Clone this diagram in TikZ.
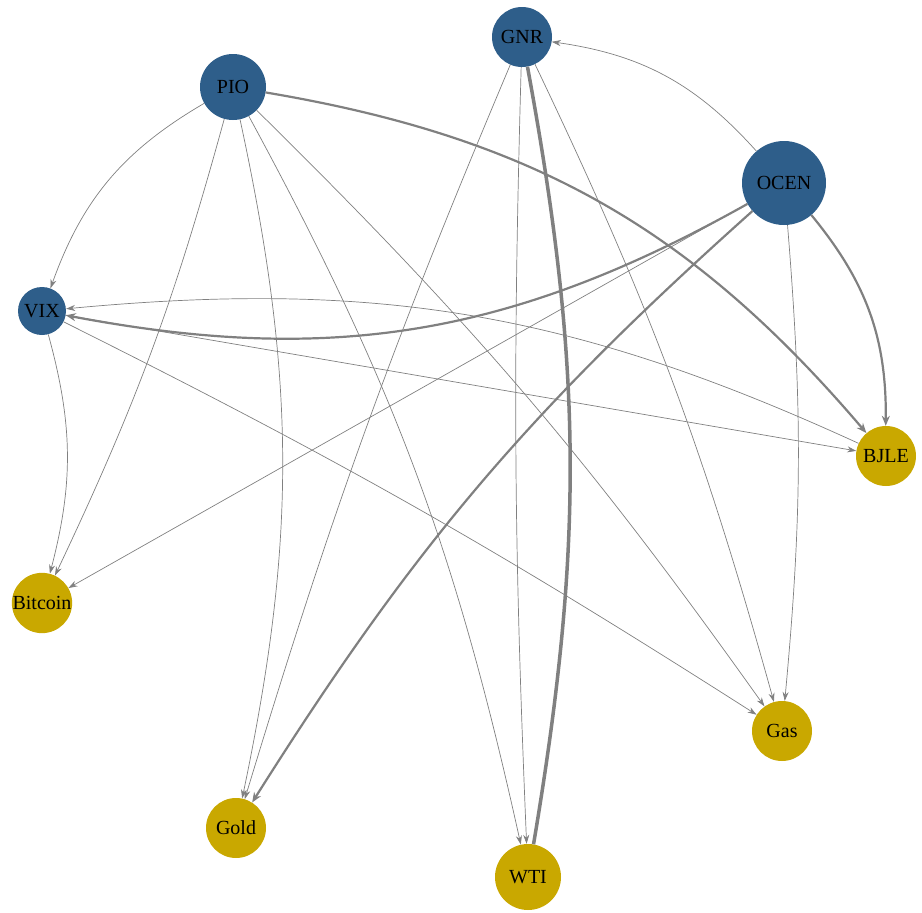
\documentclass[tikz,border=0pt]{standalone}
\usepackage{fontspec}
\setmainfont{Liberation Serif}
\usetikzlibrary{arrows.meta}
\begin{document}
\begin{tikzpicture}[x=1pt,y=-1pt,
 blu/.style={circle,fill={rgb,255:red,46;green,94;blue,138},inner sep=0pt,font=\fontsize{20}{22}\selectfont},
 yel/.style={circle,fill={rgb,255:red,201;green,168;blue,0},inner sep=0pt,font=\fontsize{20}{22}\selectfont},
 ed/.style={draw=gray,line width=0.7pt,-{Stealth[length=9pt,width=6pt]}},
 th/.style={draw=gray,line width=2.2pt,-{Stealth[length=10pt,width=8pt]}}]
\useasboundingbox (0,0) rectangle (922,913);
\node[blu,minimum size=60pt] (GNR) at (522,37) {GNR};
\node[blu,minimum size=66pt] (PIO) at (233,87) {PIO};
\node[blu,minimum size=84pt] (OCEN) at (784,183) {OCEN};
\node[blu,minimum size=48pt] (VIX) at (42,311) {VIX};
\node[yel,minimum size=60pt] (BJLE) at (886,456) {BJLE};
\node[yel,minimum size=52pt] (Bitcoin) at (42,603) {Bitcoin};
\node[yel,minimum size=60pt] (Gas) at (782,731) {Gas};
\node[yel,minimum size=60pt] (Gold) at (236,828) {Gold};
\node[yel,minimum size=66pt] (WTI) at (528,877) {WTI};
\draw[ed] (PIO) to[bend right=20] (VIX);
\draw[ed] (PIO) to[bend left=5] (Bitcoin);
\draw[ed] (PIO) to[bend left=12] (Gold);
\draw[ed] (PIO) to[bend left=8] (WTI);
\draw[ed] (PIO) to[bend left=5] (Gas);
\draw[th] (PIO) to[bend left=20] (BJLE);
\draw[ed] (GNR) to[bend right=3] (Gold);
\draw[ed] (GNR) to[bend right=2] (WTI);
\draw[ed] (GNR) to[bend left=5] (Gas);
\draw[draw=gray,line width=3.5pt] (WTI) to[bend right=10] (GNR);
\draw[ed] (OCEN) to[bend right=20] (GNR);
\draw[th] (OCEN) to[bend left=20] (VIX);
\draw[th] (OCEN) to[bend left=20] (BJLE);
\draw[ed] (OCEN) to[bend left=5] (Gas);
\draw[th] (OCEN) to[bend right=8] (Gold);
\draw[ed] (OCEN) to (Bitcoin);
\draw[ed] (VIX) to[bend left=15] (Bitcoin);
\draw[ed] (BJLE) to[bend right=15] (VIX);
\draw[ed] (VIX) to (BJLE);
\draw[ed] (VIX) to[bend left=3] (Gas);
\end{tikzpicture}
\end{document}
